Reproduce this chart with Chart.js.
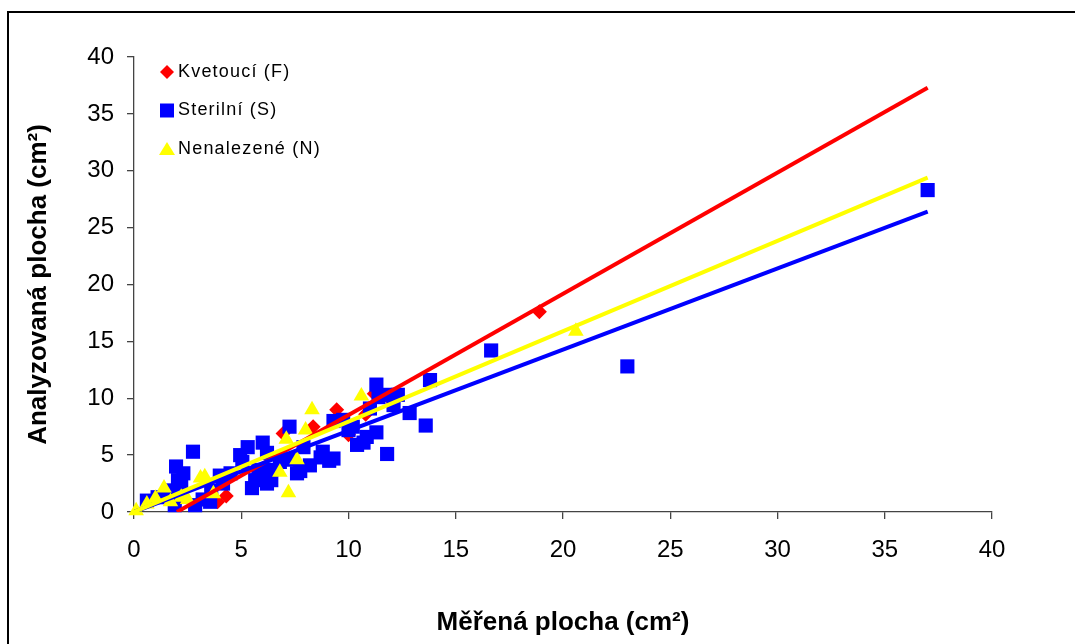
<!DOCTYPE html>
<html>
<head>
<meta charset="utf-8">
<script src="https://cdn.jsdelivr.net/npm/chart.js@4/dist/chart.umd.min.js"></script>
<style>
html,body{margin:0;padding:0;background:#fff;}
#wrap{position:relative;width:1075px;height:644px;}
</style>
</head>
<body>
<div id="wrap"><canvas id="c" width="1075" height="644"></canvas></div>
<script>
// ---- Data ----
const seriesNames = ['Kvetoucí (F)', 'Sterilní (S)', 'Nenalezené (N)'];

const kvetouciX = [3.9, 4.3, 6.95, 8.35, 9.45, 10.0, 10.8, 11.2, 11.8, 18.9];
const kvetouciY = [0.9, 1.4, 6.9, 7.5, 9.0, 6.8, 8.6, 10.4, 10.2, 17.6];

const sterilniX = [0.6, 1.1, 1.7, 1.9, 1.96, 2.05, 2.3, 2.2, 2.75, 2.85, 3.2, 3.55, 3.6, 4.0, 4.15, 4.5, 4.95, 5.05, 5.3, 5.5,
  5.65, 5.8, 6.0, 6.2, 6.2, 6.4, 6.4, 6.8, 7.25, 7.3, 7.6, 7.75, 7.9, 8.2, 8.7, 8.8, 9.1, 9.3, 9.3, 9.75,
  10.0, 10.2, 10.4, 10.7, 10.85, 11.0, 11.3, 11.3, 11.4, 11.8, 11.85, 12.1, 12.3, 12.85, 13.6, 13.8, 16.65, 23.0, 37.0];
const sterilniY = [1.0, 1.3, 1.9, 0.6, 4.0, 2.8, 3.4, 2.3, 5.3, 0.6, 1.1, 0.9, 1.9, 3.2, 2.5, 3.4, 5.0, 4.4, 5.7, 2.1,
  2.8, 3.7, 6.1, 5.2, 2.5, 2.8, 3.7, 4.4, 7.5, 4.6, 3.4, 3.6, 5.7, 4.1, 4.8, 5.3, 4.5, 4.7, 8.0, 8.1,
  7.2, 7.5, 5.9, 6.1, 6.6, 9.1, 7.0, 11.2, 10.1, 5.1, 10.3, 9.4, 10.3, 8.7, 7.6, 11.6, 14.2, 12.8, 28.3];

const nenalezeneX = [0.1, 0.6, 1.0, 1.4, 1.7, 2.2, 2.5, 3.1, 3.3, 3.7, 6.8, 7.1, 7.2, 7.6, 8.0, 8.3, 10.6, 20.6];
const nenalezeneY = [0.1, 0.7, 1.2, 2.1, 0.9, 1.3, 1.1, 3.0, 3.1, 1.6, 3.5, 6.4, 1.7, 4.6, 7.2, 9.0, 10.2, 15.9];

// linear trend lines (end points)
const trendKvetouciX = [2.0, 37.0];
const trendKvetouciY = [0.0, 37.3];
const trendSterilniX = [0.0, 37.0];
const trendSterilniY = [0.0, 26.4];
const trendNenalezeneX = [0.0, 37.0];
const trendNenalezeneY = [0.0, 29.4];

const xTicks = [0, 5, 10, 15, 20, 25, 30, 35, 40];
const yTicks = [0, 5, 10, 15, 20, 25, 30, 35, 40];
const xTitle = 'Měřená plocha (cm²)';
const yTitle = 'Analyzovaná plocha (cm²)';

// ---- helpers ----
const pts = (xs, ys) => xs.map((x, i) => ({x: x, y: ys[i]}));
const RED = '#FF0000', BLUE = '#0000FF', YELLOW = '#FFFF00';
const FONT = '"Liberation Sans", Arial, sans-serif';

const framePlugin = {
  id: 'frame',
  beforeDraw(chart) {
    const ctx = chart.ctx;
    ctx.save();
    ctx.fillStyle = '#fff';
    ctx.fillRect(0, 0, chart.width, chart.height);
    ctx.strokeStyle = '#000';
    ctx.lineWidth = 2;
    ctx.strokeRect(8, 12, chart.width + 20, chart.height + 20);
    ctx.restore();
  }
};

const legendPlugin = {
  id: 'innerLegend',
  afterDraw(chart) {
    const ctx = chart.ctx;
    const colors = [RED, BLUE, YELLOW];
    const styles = ['diamond', 'square', 'triangle'];
    const x0 = 167, y0 = 72, dy = 38.5;
    ctx.save();
    seriesNames.forEach((name, i) => {
      const cy = y0 + i * dy;
      ctx.fillStyle = colors[i];
      ctx.beginPath();
      if (styles[i] === 'diamond') {
        ctx.moveTo(x0, cy - 7); ctx.lineTo(x0 + 7, cy); ctx.lineTo(x0, cy + 7); ctx.lineTo(x0 - 7, cy);
      } else if (styles[i] === 'square') {
        ctx.rect(x0 - 7, cy - 7, 14, 14);
      } else {
        ctx.moveTo(x0, cy - 7); ctx.lineTo(x0 + 8, cy + 6); ctx.lineTo(x0 - 8, cy + 6);
      }
      ctx.closePath();
      ctx.fill();
      ctx.fillStyle = '#000';
      ctx.font = '18px ' + FONT;
      ctx.textBaseline = 'middle';
      ctx.textAlign = 'left';
      try { ctx.letterSpacing = '1.2px'; } catch (e) {}
      ctx.fillText(name, 178, cy);
    });
    ctx.restore();
  }
};

new Chart(document.getElementById('c'), {
  type: 'scatter',
  data: {
    datasets: [
      {label: seriesNames[0], data: pts(kvetouciX, kvetouciY), pointStyle: 'rectRot', pointRadius: 7.5,
       backgroundColor: RED, borderColor: RED, borderWidth: 0, order: 6, clip: false},
      {label: seriesNames[1], data: pts(sterilniX, sterilniY), pointStyle: 'rect', pointRadius: 10,
       backgroundColor: BLUE, borderColor: BLUE, borderWidth: 0, order: 5, clip: false},
      {label: seriesNames[2], data: pts(nenalezeneX, nenalezeneY), pointStyle: 'triangle', pointRadius: 9,
       backgroundColor: YELLOW, borderColor: YELLOW, borderWidth: 0, order: 4, clip: false},
      {type: 'line', label: 'trend F', data: pts(trendKvetouciX, trendKvetouciY), borderColor: RED,
       borderWidth: 4, pointRadius: 0, fill: false, order: 3},
      {type: 'line', label: 'trend S', data: pts(trendSterilniX, trendSterilniY), borderColor: BLUE,
       borderWidth: 4, pointRadius: 0, fill: false, order: 2},
      {type: 'line', label: 'trend N', data: pts(trendNenalezeneX, trendNenalezeneY), borderColor: YELLOW,
       borderWidth: 4, pointRadius: 0, fill: false, order: 1}
    ]
  },
  options: {
    responsive: false,
    animation: false,
    layout: {padding: {top: 57, right: 83, left: 0, bottom: 0}},
    plugins: {legend: {display: false}, tooltip: {enabled: false}},
    scales: {
      x: {
        type: 'linear', min: 0, max: 40,
        afterBuildTicks: s => { s.ticks = xTicks.map(v => ({value: v})); },
        afterFit: s => { s.height = 132; },
        grid: {drawOnChartArea: false, drawTicks: true, tickLength: 7, color: '#444', lineWidth: 1.3},
        border: {color: '#444', width: 1.3},
        ticks: {color: '#000', font: {family: FONT, size: 24}, padding: 17, maxRotation: 0},
        title: {display: true, text: xTitle, color: '#000', font: {family: FONT, size: 26, weight: 'bold'},
                padding: {top: 0, bottom: 6}}
      },
      y: {
        type: 'linear', min: 0, max: 40,
        afterBuildTicks: s => { s.ticks = yTicks.map(v => ({value: v})); },
        afterFit: s => { s.width = 134; },
        grid: {drawOnChartArea: false, drawTicks: true, tickLength: 7, color: '#444', lineWidth: 1.3},
        border: {color: '#444', width: 1.3},
        ticks: {color: '#000', font: {family: FONT, size: 24}, padding: 13},
        title: {display: true, text: yTitle, color: '#000', font: {family: FONT, size: 26, weight: 'bold'},
                padding: {top: 23, bottom: 0}}
      }
    }
  },
  plugins: [framePlugin, legendPlugin]
});
</script>
</body>
</html>
